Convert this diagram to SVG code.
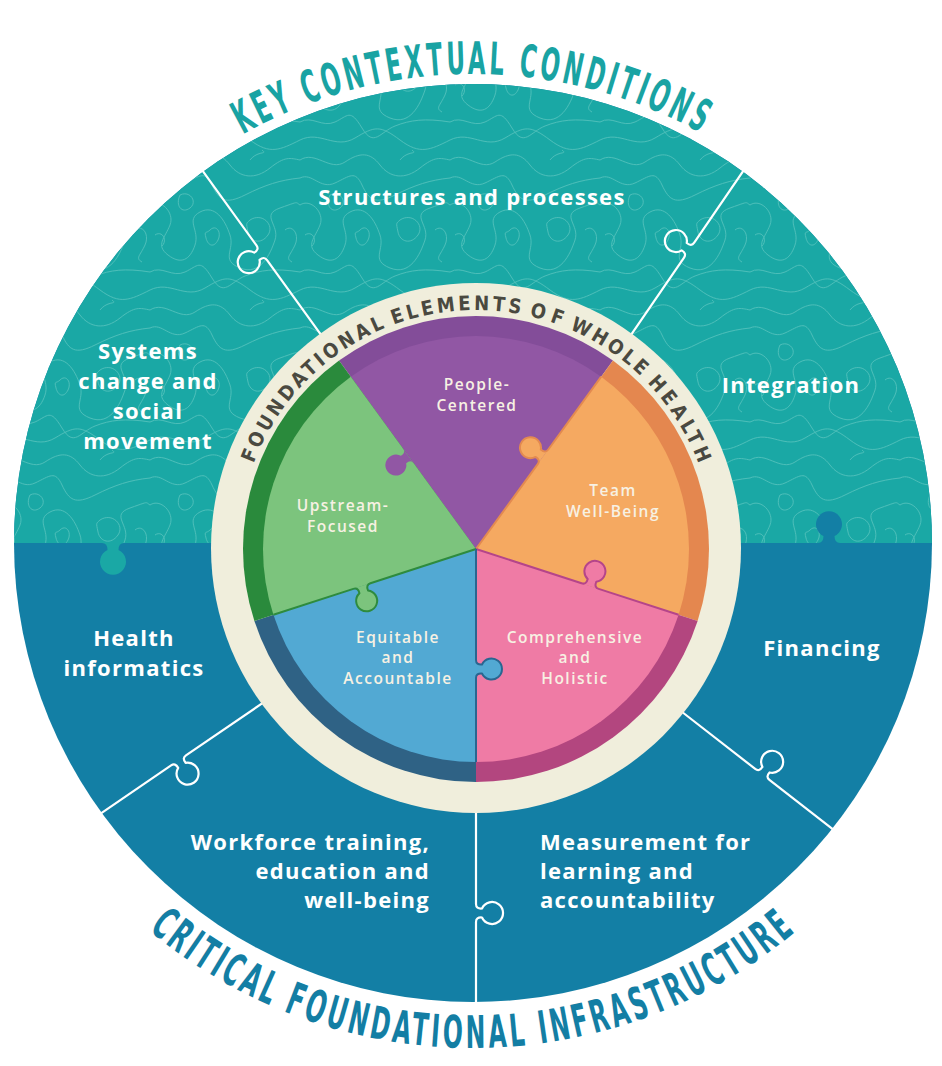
<svg xmlns="http://www.w3.org/2000/svg" width="942" height="1066" viewBox="0 0 942 1066">
<style>
.lbl{fill:#ffffff;font-family:"Open Sans","Liberation Sans",sans-serif;font-weight:700;font-size:22px;letter-spacing:1.3px}
.pl{fill:#f7f1e3;font-family:"Open Sans","Liberation Sans",sans-serif;font-weight:600;font-size:15.5px;letter-spacing:1.5px;text-anchor:middle}
.title{font-family:"DejaVu Sans Condensed","DejaVu Sans",sans-serif;font-weight:700;font-stretch:condensed;font-size:45px;letter-spacing:6px}
.ring{font-family:"DejaVu Sans Condensed","DejaVu Sans",sans-serif;font-weight:700;font-stretch:condensed;font-size:20px;fill:#4a4940}
.conn{fill:none;stroke:#ffffff;stroke-width:2.2;stroke-linecap:round;stroke-linejoin:round}
</style>
<defs>
<pattern id="topo" width="150" height="150" patternUnits="userSpaceOnUse">
<g fill="none" stroke="#6ecdc6" stroke-width="1" opacity="0.6">
<path d="M0,10 C15,0 30,22 45,12 S70,2 80,15 S105,30 120,18 S140,8 150,10"/>
<path d="M0,28 C12,22 20,40 35,33 S55,20 62,35 S75,55 95,45 S130,30 150,28"/>
<path d="M0,55 C10,48 25,62 20,75 S5,95 18,105 S40,110 45,95 S35,70 50,62 S75,70 80,85 S70,110 90,118 S120,105 125,90 S110,65 130,58 S145,52 150,55"/>
<path d="M0,140 C20,130 35,150 55,138 S80,125 100,140 S130,150 150,140"/>
<path d="M60,80 C66,74 72,82 68,90 S58,96 56,88 S56,84 60,80Z"/>
<path d="M100,70 C112,62 125,75 118,85 S100,92 98,82 S96,74 100,70Z"/>
<path d="M0,122 C12,115 22,128 35,122 S50,108 62,128 S80,132 95,126 S125,118 150,122"/>
<path d="M5,85 C12,80 18,90 12,96"/>
<path d="M135,80 C142,74 150,84 145,95 S135,108 142,112"/>
<path d="M30,45 C40,40 48,52 40,58 S25,56 30,45Z"/>
<path d="M100,10 C108,0 118,5 112,0"/>
</g>
</pattern>
<path id="arcTop" d="M4,543 A469,469 0 0 1 942,543"/>
<path id="arcBot" d="M-32,543 A505,505 0 0 0 978,543"/>
<path id="arcRing" d="M238,548 A238,238 0 0 1 714,548"/>
</defs>

<g id="background">
<circle cx="473" cy="543" r="459" fill="#137fa5"/>
<path d="M14,543 A459,459 0 0 1 932,543 Z" fill="#1aa8a5"/>
<path d="M102,543 Q107.5,543 107.5,550 A13,13 0 1 0 118.5,550 Q118.5,543 124,543 Z" fill="#1aa8a5"/>
<path d="M14,543 A459,459 0 0 1 932,543 Z" fill="url(#topo)"/>
<path d="M818,543 Q823.5,543 823.5,536 A13,13 0 1 1 834.5,536 Q834.5,543 840,543 Z" fill="#137fa5"/>
</g>

<g id="connectors">
<path class="conn" transform="translate(203.2,171.7) rotate(54.15)" d="M0,0 H91 Q96,0 95.5,6 A11,11 0 1 0 104.5,6 Q104,0 109,0 H200"/>
<path class="conn" transform="translate(742.8,171.7) rotate(124.4)" d="M0,0 H86 Q91,0 90.5,6 A11,11 0 1 0 99.5,6 Q99,0 104,0 H200"/>
<path class="conn" transform="translate(101.7,812.8) rotate(-34.3)" d="M0,0 H84 Q89,0 88.5,6 A11,11 0 1 0 97.5,6 Q97,0 102,0 H200"/>
<path class="conn" transform="translate(683.4,713) rotate(37.9)" d="M0,0 H91 Q96,0 95.5,-6 A11,11 0 1 1 104.5,-6 Q104,0 109,0 H190"/>
<path class="conn" transform="translate(476,810) rotate(90)" d="M0,0 H94 Q99,0 98.5,-6 A11,11 0 1 1 107.5,-6 Q107,0 112,0 H192"/>
</g>

<g id="title-top">
<text class="title" fill="#19a3a3"><textPath href="#arcTop" startOffset="50%" text-anchor="middle" textLength="482" lengthAdjust="spacingAndGlyphs">KEY CONTEXTUAL CONDITIONS</textPath></text>
</g>
<g id="title-bottom" class="title" fill="#137ea4">
<text><textPath href="#arcBot" startOffset="440.8" textLength="146.4" lengthAdjust="spacingAndGlyphs">CRITICAL</textPath></text>
<text><textPath href="#arcBot" startOffset="598.8" textLength="250.6" lengthAdjust="spacingAndGlyphs">FOUNDATIONAL</textPath></text>
<text><textPath href="#arcBot" startOffset="861" textLength="284.9" lengthAdjust="spacingAndGlyphs">INFRASTRUCTURE</textPath></text>
</g>

<g id="node-structures"><text class="lbl" x="472" y="205" text-anchor="middle">Structures and processes</text></g>
<g id="node-integration"><text class="lbl" x="791" y="393" text-anchor="middle">Integration</text></g>
<g id="node-systems"><text class="lbl" text-anchor="middle"><tspan x="148" y="359">Systems</tspan><tspan x="148" y="389">change and</tspan><tspan x="148" y="419">social</tspan><tspan x="148" y="449">movement</tspan></text></g>
<g id="node-health-informatics"><text class="lbl" text-anchor="middle"><tspan x="134" y="646">Health</tspan><tspan x="134" y="676">informatics</tspan></text></g>
<g id="node-financing"><text class="lbl" x="822" y="656" text-anchor="middle">Financing</text></g>
<g id="node-workforce"><text class="lbl" text-anchor="end"><tspan x="430" y="850">Workforce training,</tspan><tspan x="430" y="879">education and</tspan><tspan x="430" y="908">well-being</tspan></text></g>
<g id="node-measurement"><text class="lbl"><tspan x="540" y="850">Measurement for</tspan><tspan x="540" y="879">learning and</tspan><tspan x="540" y="908">accountability</tspan></text></g>

<g id="ring">
<circle cx="476" cy="548" r="265" fill="#f0eedc"/>
<g class="ring">
<text><textPath href="#arcRing" startOffset="86.35" textLength="194.1" lengthAdjust="spacing">FOUNDATIONAL</textPath></text>
<text><textPath href="#arcRing" startOffset="289.55" textLength="128.8" lengthAdjust="spacing">ELEMENTS</textPath></text>
<text><textPath href="#arcRing" startOffset="427.45" textLength="33.2" lengthAdjust="spacing">OF</textPath></text>
<text><textPath href="#arcRing" startOffset="469.75" textLength="85.75" lengthAdjust="spacing">WHOLE</textPath></text>
<text><textPath href="#arcRing" startOffset="564.6" textLength="96.6" lengthAdjust="spacing">HEALTH</textPath></text>
</g>
</g>

<g id="pie">
<g id="piece-people-centered">
<path d="M476,549 L339.05,360.5 A233,233 0 0 1 612.95,360.5 Z" fill="#834d99"/>
<path d="M476,549 L350.8,376.7 A213,213 0 0 1 601.2,376.7 Z" fill="#9157a4"/>
</g>
<g id="piece-team-wellbeing">
<path d="M476,549 L612.95,360.5 A233,233 0 0 1 697.6,621 Z" fill="#e4874f"/>
<path d="M476,549 L601.2,376.7 A213,213 0 0 1 678.6,614.8 Z" fill="#f5a961"/>
</g>
<g id="piece-comprehensive">
<path d="M476,549 L697.6,621 A233,233 0 0 1 476,782 Z" fill="#b3467f"/>
<path d="M476,549 L678.6,614.8 A213,213 0 0 1 476,762 Z" fill="#ef7ba5"/>
</g>
<g id="piece-equitable">
<path d="M476,549 L476,782 A233,233 0 0 1 254.4,621 Z" fill="#2f6285"/>
<path d="M476,549 L476,762 A213,213 0 0 1 273.4,614.8 Z" fill="#52a9d3"/>
</g>
<g id="piece-upstream">
<path d="M476,549 L254.4,621 A233,233 0 0 1 339.05,360.5 Z" fill="#2a8a3c"/>
<path d="M476,549 L273.4,614.8 A213,213 0 0 1 350.8,376.7 Z" fill="#7cc47d"/>
</g>
<g id="pie-joints" transform="translate(476,549)">
<path transform="rotate(-126)" d="M106,0 Q111,0 110.5,-6 A10.5,10.5 0 1 1 119.5,-6 Q119,0 124,0 Z" fill="#9157a4"/>
<path transform="rotate(-54)" d="M105,0 Q110,0 109.5,-6 A10.5,10.5 0 1 1 118.5,-6 Q118,0 123,0 Z" fill="#f5a961"/>
<path transform="rotate(18)" d="M111,0 Q116,0 115.5,-6 A10.5,10.5 0 1 1 124.5,-6 Q124,0 129,0 Z" fill="#ef7ba5"/>
<path transform="rotate(162)" d="M111,0 Q116,0 115.5,-6 A10.5,10.5 0 1 1 124.5,-6 Q124,0 129,0 Z" fill="#7cc47d"/>
<path transform="rotate(90)" d="M111,0 Q116,0 115.5,-6 A10.5,10.5 0 1 1 124.5,-6 Q124,0 129,0 Z" fill="#52a9d3"/>
<g fill="none" stroke-width="2" stroke-linejoin="round">
<path transform="rotate(-54)" d="M0,0 H105 Q110,0 109.5,-6 A10.5,10.5 0 1 1 118.5,-6 Q118,0 123,0 H213" stroke="#e38a50"/>
<path transform="rotate(18)" d="M0,0 H111 Q116,0 115.5,-6 A10.5,10.5 0 1 1 124.5,-6 Q124,0 129,0 H213" stroke="#b5458a"/>
<path transform="rotate(162)" d="M0,0 H111 Q116,0 115.5,-6 A10.5,10.5 0 1 1 124.5,-6 Q124,0 129,0 H213" stroke="#2e8b3e"/>
<path transform="rotate(90)" d="M0,0 H111 Q116,0 115.5,-6 A10.5,10.5 0 1 1 124.5,-6 Q124,0 129,0 H213" stroke="#2a6690"/>
</g>
</g>
<text class="pl"><tspan x="477" y="390">People-</tspan><tspan x="477" y="411">Centered</tspan></text>
<text class="pl"><tspan x="613" y="496">Team</tspan><tspan x="613" y="517">Well-Being</tspan></text>
<text class="pl"><tspan x="343" y="511">Upstream-</tspan><tspan x="343" y="532">Focused</tspan></text>
<text class="pl"><tspan x="398" y="643">Equitable</tspan><tspan x="398" y="663">and</tspan><tspan x="398" y="684">Accountable</tspan></text>
<text class="pl"><tspan x="575" y="643">Comprehensive</tspan><tspan x="575" y="663">and</tspan><tspan x="575" y="684">Holistic</tspan></text>
</g>
</svg>
